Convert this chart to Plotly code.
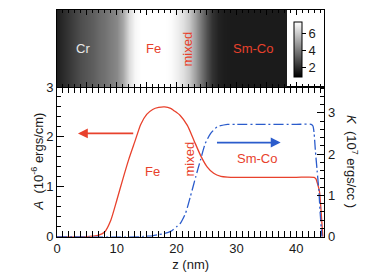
import plotly.graph_objects as go

# ---- data ----
z_A = [0, 5, 6, 7, 8, 9, 10, 11, 12, 13, 14, 15, 16, 17, 18, 19, 19.5, 20.6, 21.8, 22.9, 24, 25.1, 26.2, 27.4, 28.5, 30, 35, 40, 43.0, 43.3, 43.6, 43.9, 44.2, 44.45]
A_vals = [0, 0, 0.01, 0.03, 0.1, 0.33, 0.73, 1.15, 1.55, 1.9, 2.25, 2.45, 2.55, 2.59, 2.6, 2.57, 2.53, 2.43, 2.23, 1.93, 1.63, 1.4, 1.27, 1.21, 1.195, 1.19, 1.19, 1.19, 1.19, 1.16, 1.05, 0.9, 0.45, 0.0]

z_K = [0, 14, 15, 16, 17, 18, 19, 20, 20.6, 21.5, 22.3, 23.2, 24, 24.8, 25.7, 26.8, 28.5, 30, 35, 40, 42.5, 42.8, 43.0, 43.2, 43.5, 43.8, 44.0, 44.3]
K_vals = [0, 0, 0.01, 0.02, 0.05, 0.08, 0.13, 0.24, 0.32, 0.57, 0.97, 1.45, 1.86, 2.26, 2.5, 2.66, 2.72, 2.72, 2.72, 2.72, 2.72, 2.68, 2.5, 2.1, 1.6, 1.1, 0.6, 0.0]

z_map = list(range(0, 39))
map_vals = [1.7, 2.0, 2.3, 2.6, 2.9, 3.1, 3.3, 3.6, 3.8, 4.1, 4.4, 5.2, 6.5, 7.2, 7.4, 7.4, 7.4, 7.4, 7.4,
            7.3, 7.0, 6.6, 6.0, 5.0, 3.9, 2.9, 2.2, 1.8, 1.65, 1.6, 1.6, 1.6, 1.6, 1.6, 1.6, 1.6, 1.6, 1.6, 1.6]

x_ticks = [0, 10, 20, 30, 40]
A_ticks = [0, 1, 2, 3]
K_ticks = [0, 1, 2, 3]
cb_ticks = [2, 4, 6]

RED = "#e8412c"
BLUE = "#2b5ccc"
FONT = "Liberation Sans, Arial, sans-serif"
TXT = "#1a1a1a"

XD = [57 / 374, 324.3 / 374]
YB = [1 - 236.7 / 278, 1 - 87 / 278]
YT = [1 - 87 / 278, 1 - 10 / 278]

fig = go.Figure()

fig.add_trace(go.Heatmap(
    x=z_map, y=[0, 1], z=[map_vals, map_vals], zsmooth="best",
    colorscale=[[0, "black"], [1, "white"]], zmin=0.9, zmax=7.4,
    xaxis="x2", yaxis="y2",
    colorbar=dict(x=294 / 374, xanchor="left", xpad=0, ypad=0,
                  y=1 - 49.5 / 278, yanchor="middle", len=55 / 278, lenmode="fraction",
                  thickness=8, outlinewidth=1, outlinecolor="black",
                  tickvals=cb_ticks, ticks="outside", ticklen=4,
                  tickcolor="black", tickfont=dict(size=13, color=TXT))
))

fig.add_trace(go.Scatter(x=z_A, y=A_vals, mode="lines", line=dict(color=RED, width=1.3, shape="spline", smoothing=0.6),
                         xaxis="x", yaxis="y", showlegend=False))
fig.add_trace(go.Scatter(x=z_K, y=K_vals, mode="lines", line=dict(color=BLUE, width=1.3, dash="10px,3px,2px,3px", shape="spline", smoothing=0.6),
                         xaxis="x", yaxis="y3", showlegend=False))

axis_common = dict(showline=True, linecolor="black", linewidth=1, showgrid=False, zeroline=False,
                   automargin=False, tickcolor="black", tickfont=dict(size=13, color=TXT))

fig.update_layout(
    width=374, height=278, autosize=False,
    margin=dict(l=0, r=0, t=0, b=0, pad=0, autoexpand=False),
    paper_bgcolor="white", plot_bgcolor="white",
    font=dict(family=FONT, size=13, color=TXT),
    showlegend=False,
    xaxis=dict(domain=XD, anchor="y", range=[0, 44.7], tickvals=x_ticks,
               ticks="inside", ticklen=6, mirror="allticks",
               minor=dict(dtick=1, ticklen=3, ticks="inside", tickcolor="black"),
               title=dict(text="z (nm)", font=dict(size=13), standoff=4), **axis_common),
    yaxis=dict(domain=YB, anchor="x", range=[0, 3], tickvals=A_ticks, ticks="inside", ticklen=7,
               minor=dict(dtick=0.2, ticklen=4, ticks="inside", tickcolor="black"), **axis_common),
    yaxis3=dict(overlaying="y", anchor="x", side="right", range=[0, 3.625], tickvals=K_ticks,
                ticks="inside", ticklen=7,
                minor=dict(dtick=0.2, ticklen=4, ticks="inside", tickcolor="black"), **axis_common),
    xaxis2=dict(domain=XD, anchor="y2", range=[0, 44.7], dtick=5, tick0=0, showticklabels=False,
                ticks="inside", ticklen=5, mirror="allticks",
                minor=dict(dtick=1, ticklen=3, ticks="inside", tickcolor="black"), **axis_common),
    yaxis2=dict(domain=YT, anchor="x2", range=[0, 1], showticklabels=False, ticks="", mirror=True,
                **{k: v for k, v in axis_common.items() if k != "tickfont"}),
)

ann = []
# arrows
ann.append(dict(x=3.5, y=2.07, ax=13, ay=2.07, xref="x", yref="y", axref="x", ayref="y",
                showarrow=True, arrowhead=2, arrowsize=1.1, arrowwidth=1.8, arrowcolor=RED, text=""))
ann.append(dict(x=37.4, y=2.28, ax=26.5, ay=2.28, xref="x", yref="y3", axref="x", ayref="y3",
                showarrow=True, arrowhead=2, arrowsize=1.1, arrowwidth=1.8, arrowcolor=BLUE, text=""))
# bottom labels
ann.append(dict(x=15.9, y=1.3, xref="x", yref="y", text="Fe", showarrow=False, font=dict(color=RED, size=13)))
ann.append(dict(x=22.1, y=1.55, xref="x", yref="y", text="mixed", textangle=-90, showarrow=False, font=dict(color=RED, size=13)))
ann.append(dict(x=33.5, y=1.57, xref="x", yref="y", text="Sm-Co", showarrow=False, font=dict(color=RED, size=13)))
# top labels
ann.append(dict(x=4.4, y=0.5, xref="x2", yref="y2", text="Cr", showarrow=False, font=dict(color="#e8e8e8", size=13)))
ann.append(dict(x=16.2, y=0.5, xref="x2", yref="y2", text="Fe", showarrow=False, font=dict(color=RED, size=13)))
ann.append(dict(x=21.9, y=0.5, xref="x2", yref="y2", text="mixed", textangle=-90, showarrow=False, font=dict(color=RED, size=13)))
ann.append(dict(x=32.7, y=0.5, xref="x2", yref="y2", text="Sm-Co", showarrow=False, font=dict(color=RED, size=13)))
# axis titles
ann.append(dict(x=27 / 374, y=1 - 161.5 / 278, xref="paper", yref="paper", text="<i>A</i>  (10<sup>-6</sup> ergs/cm)",
                textangle=-90, showarrow=False, font=dict(size=13, color=TXT)))
ann.append(dict(x=362 / 374, y=1 - 161 / 278, xref="paper", yref="paper", text="<i>K</i>  (10<sup>7</sup> ergs/cc )",
                textangle=90, showarrow=False, font=dict(size=13, color=TXT)))
fig.update_layout(annotations=ann)

fig.write_html("out.html", config={"displayModeBar": False},
               post_script="document.body.style.margin='0';document.body.style.padding='0';")
